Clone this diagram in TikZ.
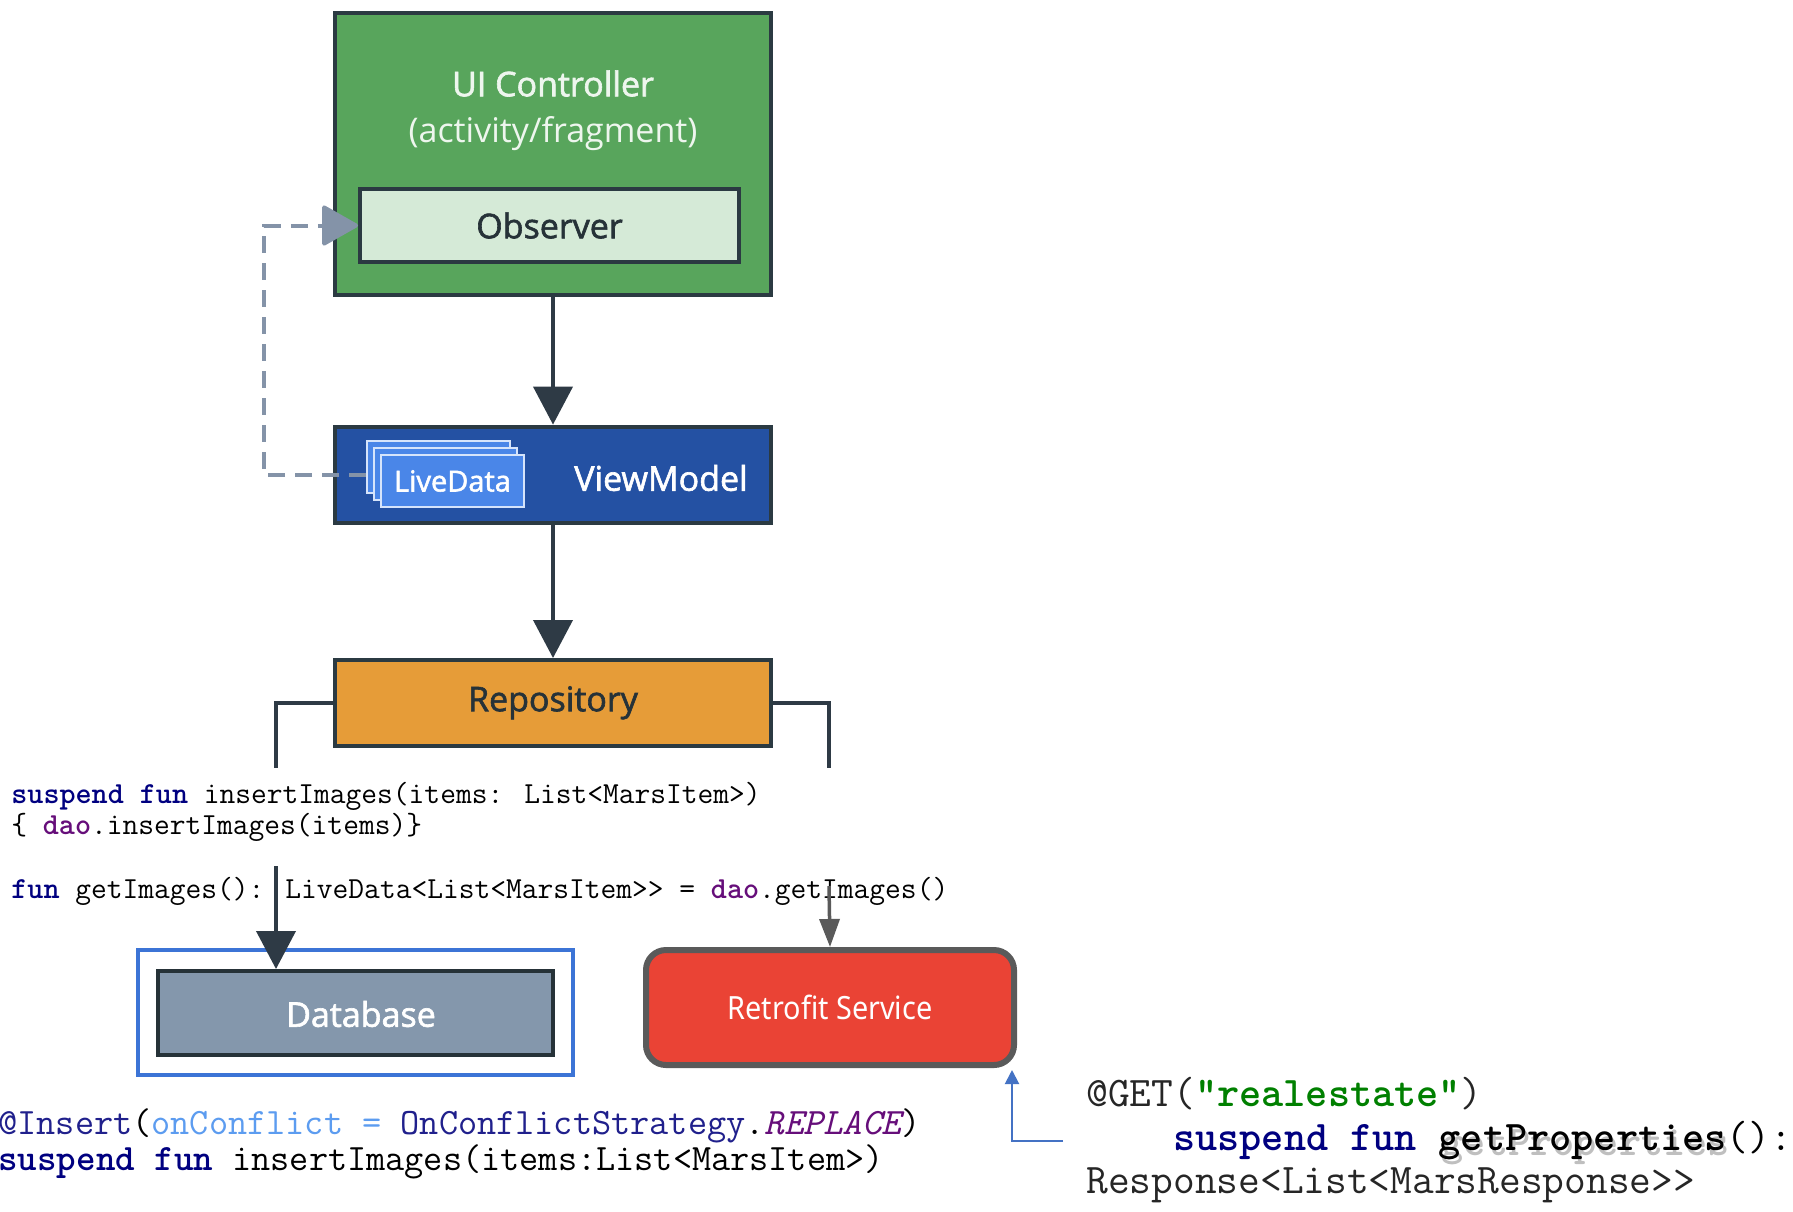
\documentclass[tikz,border=0pt]{standalone}
\usepackage{fontspec}
\usepackage{xcolor}
\setmainfont{Open Sans}
\newfontfamily\boxfont{Open Sans}[FakeBold=1.8]
\newfontfamily\servicefont{Noto Sans}[FakeStretch=0.9]
\usetikzlibrary{arrows.meta}
\usetikzlibrary{calc}

\definecolor{uigreen}{HTML}{58A55C}
\definecolor{uitext}{HTML}{EEF6EE}
\definecolor{obsgreen}{HTML}{D5EAD7}
\definecolor{edgegrey}{HTML}{2B3A42}
\definecolor{labeldark}{HTML}{263238}
\definecolor{vmblue}{HTML}{2451A3}
\definecolor{cardblue}{HTML}{4A86E8}
\definecolor{cardedge}{HTML}{D6E4FB}
\definecolor{repoorange}{HTML}{E69C38}
\definecolor{dbgrey}{HTML}{8497AC}
\definecolor{dbframe}{HTML}{3C74D6}
\definecolor{retrored}{HTML}{EA4335}
\definecolor{retroedge}{HTML}{5A5A5A}
\definecolor{flowgrey}{HTML}{2E3A45}
\definecolor{watchgrey}{HTML}{8493A8}
\definecolor{apiblue}{HTML}{4472C4}
\definecolor{kwnavy}{HTML}{000080}
\definecolor{daopurple}{HTML}{660E7A}
\definecolor{argblue}{HTML}{5C9CF0}
\definecolor{annonavy}{HTML}{20208C}
\definecolor{strgreen}{HTML}{008000}

\newcommand\kw[1]{\textcolor{kwnavy}{\bfseries #1}}
\newcommand\daoref{\textcolor{daopurple}{\bfseries dao}}
\newcommand\shadowed[1]{\makebox[0pt][l]{\raisebox{-2.5pt}{\hspace{1.5pt}\textcolor{black!25}{\bfseries #1}}}{\bfseries #1}}

\tikzset{
  layer/.style={draw=edgegrey, line width=2pt, inner sep=0pt},
  boxlabel/.style={inner sep=0pt, font=\boxfont\fontsize{17}{20}\selectfont},
  card/.style={fill=cardblue, draw=cardedge, line width=0.8pt, minimum width=71.5pt, minimum height=26pt, inner sep=0pt},
  flow/.style={draw=flowgrey, line width=2pt, -{Triangle[width=19.5pt,length=19pt]}},
  tap/.style={draw=flowgrey, line width=1.8pt},
  watch/.style={draw=watchgrey, line width=2pt, dash pattern=on 8.5pt off 5pt, -{Triangle[width=21pt,length=19pt,round]}},
  code/.style={anchor=base west, inner sep=0pt},
}

\begin{document}
\begin{tikzpicture}[x=0.5pt,y=0.5pt,yscale=-1,xscale=1]
\useasboundingbox[fill=white] (0,0) rectangle (1793,1211);

% UI controller and observer
\node[layer, fill=uigreen, minimum width=218pt, minimum height=141pt] (ui) at (553,154) {};
\node[boxlabel, text=uitext] (uititle) at (553,83.5) {UI Controller};
\node[inner sep=0pt, text=uitext, font=\fontsize{17}{20}\selectfont] (uisub) at (553,134) {(activity/fragment)};
\node[layer, fill=obsgreen, minimum width=189.5pt, minimum height=36.5pt, boxlabel, text=labeldark] (obs) at (549.5,225.5) {Observer};

% ViewModel with stacked LiveData
\node[layer, fill=vmblue, minimum width=218pt, minimum height=48pt] (vm) at (553,474.6) {};
\coordinate (watchx) at (264,0);
\draw[watch] (366,474.6) -- (vm.center -| watchx) |- (obs.west);
\node[card] (ldback) at (438.5,467) {};
\node[card] (ldmid) at (445.5,474) {};
\node[card, text=white, font=\boxfont\fontsize{14.5}{16}\selectfont] (ldfront) at (452.5,481) {LiveData};
\node[boxlabel, text=white] (vmtitle) at (661,478) {ViewModel};

% Repository
\node[layer, fill=repoorange, minimum width=218pt, minimum height=42.8pt, boxlabel, text=labeldark] (repo) at (553,702.8) {Repository};

\draw[flow] (ui.south) -- (vm.north);
\draw[flow] (vm.south) -- (repo.north);

% data sources
\node[draw=dbframe, line width=1.6pt, minimum width=217.5pt, minimum height=62.5pt] (dbout) at (355.5,1012.5) {};
\node[draw=labeldark, line width=2pt, fill=dbgrey, minimum width=197.5pt, minimum height=42pt] (db) at (355.5,1013) {};
\node[boxlabel, text=white] (dbtitle) at (361,1014) {Database};
\node[draw=retroedge, line width=3pt, fill=retrored, rounded corners=10pt, minimum width=184pt, minimum height=57.5pt, text=white, font=\servicefont\fontsize{16}{18}\selectfont] (retro) at (830,1007.5) {Retrofit Service};

% repository taps
\coordinate (tapl) at (276,768);
\coordinate (tapr) at (829,768);
\draw[tap] (repo.west) -| (tapl);
\draw[tap] (repo.east) -| (tapr);

% repository code
\node[code, font=\ttfamily\fontsize{15.3}{18}\selectfont] (repoins) at (11,803) {\kw{suspend fun} insertImages(items: List<MarsItem>)};
\node[code, font=\ttfamily\fontsize{15.3}{18}\selectfont] (repoinsbody) at (11,834) {\{ \daoref.insertImages(items)\}};
\node[code, font=\ttfamily\fontsize{15.3}{18}\selectfont] (repoget) at (11,898) {\kw{fun} getImages(): LiveData<List<MarsItem>> = \daoref.getImages()};

\coordinate (lowl) at (276,866);
\coordinate (lowr) at (829,886);
\draw[flow] (lowl) -- (lowl |- db.north);
\draw[draw=retroedge, line width=1.75pt, -{Triangle[width=10pt,length=14pt]}] (lowr) -- (retro.north);

% dao code
\node[code, font=\ttfamily\fontsize{18.6}{20}\selectfont] (daoins) at (-2,1134) {\textcolor{annonavy}{@Insert}(\textcolor{argblue}{onConflict =} \textcolor{annonavy}{OnConflictStrategy}.\textcolor{daopurple}{\itshape REPLACE})};
\node[code, font=\ttfamily\fontsize{18.6}{20}\selectfont] (daofun) at (-2,1170) {\kw{suspend fun} insertImages(items:List<MarsItem>)};

% service code
\node[code, font=\ttfamily\fontsize{21.1}{24}\selectfont, text=black!85] (apiget) at (1086,1106) {@GET(\textcolor{strgreen}{\bfseries"realestate"})};
\node[code, font=\ttfamily\fontsize{21.1}{24}\selectfont, text=black] (apifun) at (1086,1150) {\phantom{xxxx}\kw{suspend fun} \shadowed{getProperties}():};
\node[code, font=\ttfamily\fontsize{21.1}{24}\selectfont, text=black!85] (apiret) at (1086,1193) {Response<List<MarsResponse>>};

\coordinate (apitap) at (1063,1141);
\draw[draw=apiblue, line width=1pt, -{Triangle[width=7pt,length=7pt]}] (apitap) -| ($(retro.south east)+(-5,2)$);

\end{tikzpicture}
\end{document}
